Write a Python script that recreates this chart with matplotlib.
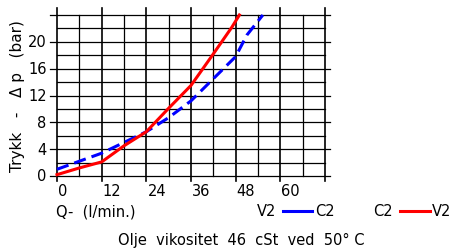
import matplotlib.pyplot as plt
import numpy as np

# Flow Q (l/min) vs pressure drop (bar)
q_v2c2 = [0, 6, 12, 18, 24, 30, 36, 42, 48, 51, 55.3]
p_v2c2 = [1.0, 2.2, 3.4, 5.0, 6.6, 8.7, 11.2, 14.5, 17.8, 21.0, 24.0]

q_c2v2 = [0, 6, 12, 18, 24, 30, 36, 42, 47, 49]
p_c2v2 = [0.2, 1.2, 2.1, 4.5, 6.6, 10.1, 13.5, 18.2, 22.2, 24.0]

x_ticks = [0, 12, 24, 36, 48, 60]
y_ticks = [0, 4, 8, 12, 16, 20]

fig = plt.figure(figsize=(4.56, 2.51), dpi=100)
# axes placed so that x=0..72 maps to px 57..325, y=0..24 maps to px 177..16
ax = fig.add_axes([57/456, (251-177)/251, (325-57)/456, (177-16)/251])
ax.set_xlim(0, 72)
ax.set_ylim(0, 24)
ax.axis('off')

# grid
for x in np.arange(0, 73, 6):
    if x % 12 == 0:
        ax.plot([x, x], [-0.8, 25], color='black', lw=1.2, clip_on=False)
    else:
        ax.plot([x, x], [0, 24], color='black', lw=0.9, clip_on=False)
for y in np.arange(0, 25, 2):
    if y % 4 == 0:
        ax.plot([-2, 73.4], [y, y], color='black', lw=0.9, clip_on=False)
    else:
        ax.plot([0, 72], [y, y], color='black', lw=0.9, clip_on=False)

ax.plot(q_v2c2, p_v2c2, color='#0000ff', lw=2.2, dashes=(4, 2), clip_on=False)
ax.plot(q_c2v2, p_c2v2, color='#ff0000', lw=2.2, clip_on=False)

fs = 10.5
for x in x_ticks:
    ax.text(x + 0.3, -1.0, str(x), ha='left', va='top', fontsize=fs)
for y in y_ticks:
    ax.text(-2.8, y, str(y), ha='right', va='center', fontsize=fs)

fig.text(18/456, 1 - 96/251, 'Trykk   -   \u0394 p   (bar)', rotation=90,
         ha='center', va='center', fontsize=11)
fig.text(56/456, 1 - 212/251, 'Q-  (l/min.)', ha='left', va='center', fontsize=fs)

# legend
fig.text(257/456, 1 - 212/251, 'V2', ha='left', va='center', fontsize=fs)
fig.add_artist(plt.Line2D([283/456, 312/456], [1 - 212/251] * 2, color='#0000ff', lw=2.2))
fig.text(315/456, 1 - 212/251, 'C2', ha='left', va='center', fontsize=fs)
fig.text(373/456, 1 - 212/251, 'C2', ha='left', va='center', fontsize=fs)
fig.add_artist(plt.Line2D([400/456, 430/456], [1 - 212/251] * 2, color='#ff0000', lw=2.2))
fig.text(432/456, 1 - 212/251, 'V2', ha='left', va='center', fontsize=fs)

fig.text(241/456, 1 - 240/251, 'Olje  vikositet  46  cSt  ved  50\u00b0 C',
         ha='center', va='center', fontsize=fs)

fig.savefig('out.png', dpi=100)
